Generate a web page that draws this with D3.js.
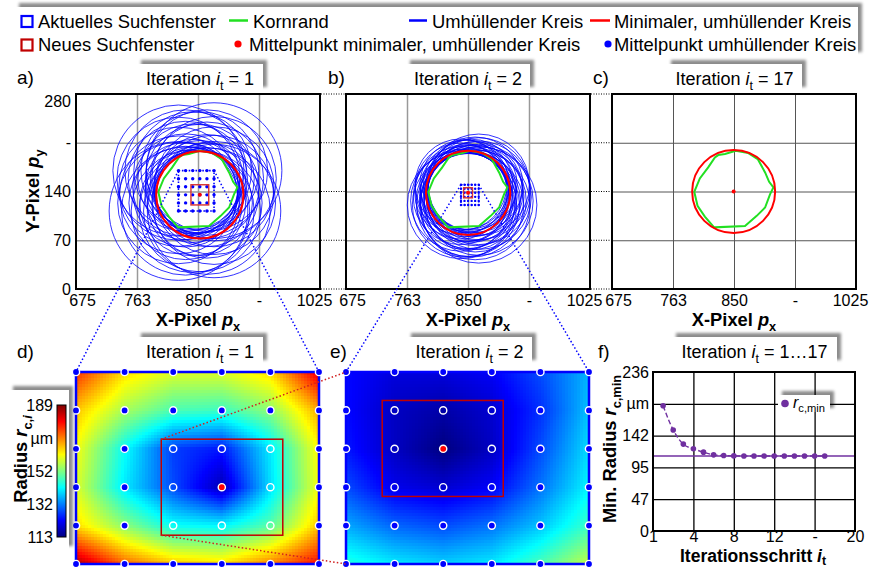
<!DOCTYPE html>
<html>
<head>
<meta charset="utf-8">
<script src="https://cdn.jsdelivr.net/npm/d3@7/dist/d3.min.js"></script>
<style>
  body { margin: 0; background: #fff; }
  svg text { font-family: "Liberation Sans", Arial, sans-serif; fill: #000; }
</style>
</head>
<body>
<div id="chart"></div>
<script>
// ---- data ----
var pxTicks = [675, 762.5, 850, 937.5, 1025];
var pxLabels = ["675", "763", "850", "-", "1025"];
var pyTicks = [0, 70, 140, 210, 280];
var pyLabels = ["0", "70", "140", "-", "280"];

// grain boundary (Kornrand), image pixels
var kornX = [827.4, 837, 852.5, 870.6, 884, 894.6, 900.4, 906.5, 901.8, 894.6, 882.6, 865.8, 821.5, 808.2, 797.7, 793, 801, 813, 822.6];
var kornY = [192.3, 193.8, 198.5, 195.2, 186.6, 167.4, 153.9, 145.8, 136.2, 117, 105, 90.6, 88.5, 104, 119.4, 139.5, 158.7, 174.6, 189];

// search windows (image pixels) for iteration 1, 2, 3
var winAx = [822, 873],     winAy = [112, 170];
var winBx = [839.9, 865.4], winBy = [120.7, 149.7];
var winCx = [843.7, 856.4], winCy = [130.9, 145.4];

// radius of the enclosing circle at each 6x6 search point (µm), rows top -> bottom
var radiusD = [
  [176, 163, 158, 158, 163, 182],
  [165, 154, 147, 146, 152, 167],
  [160, 142, 127, 124, 140, 161],
  [158, 140, 128, 117, 139, 160],
  [163, 152, 142, 141, 148, 165],
  [186, 172, 165, 163, 170, 179]
];
var radiusE = [
  [123, 120, 120, 122, 128, 136],
  [123, 118, 116, 119, 126, 137],
  [124, 118, 113, 118, 128, 139],
  [128, 121, 119, 122, 131, 141],
  [135, 130, 128, 131, 137, 146],
  [144, 140, 138, 140, 147, 156]
];
var umPerPx = 1.87;
var finalCenter = [849.5, 140];

var cbTicks = [113, 132, 151, 170, 189];
var cbLabels = ["113", "132", "152", "µm", "189"];

// f) convergence
var iterations = [1, 2, 3, 4, 5, 6, 7, 8, 9, 10, 11, 12, 13, 14, 15, 16, 17];
var rMin = [186, 150, 129, 122, 117, 113, 112, 111.5, 111.3, 111.3, 111.3, 111.3, 111.3, 111.3, 111.3, 111.3, 111.3];
var rMinFinal = 111.3;
var itTicks = [0, 4, 8, 12, 16, 20];
var itLabels = ["1", "4", "8", "12", "-", "20"];
var rTicks = [0, 47.2, 94.4, 141.6, 188.8, 236];
var rLabels = ["0", "47", "95", "142", "µm", "236"];

var FONT = '"Liberation Sans", Arial, sans-serif';
var BLUE = "#0000ff", RED = "#ff0000", DRED = "#c00000", GREEN = "#22e022", PURPLE = "#7030a0";
var TITLE_SIZE = 18.3;

var svg = d3.select("#chart").append("svg").attr("width", 872).attr("height", 569);
var defs = svg.append("defs");
defs.append("filter").attr("id", "shadow")
  .attr("x", "-20%").attr("y", "-40%").attr("width", "140%").attr("height", "180%")
  .append("feDropShadow").attr("dx", 4).attr("dy", -4).attr("stdDeviation", 1.8)
  .attr("flood-color", "#000").attr("flood-opacity", 0.45);

var jet = d3.scaleLinear()
  .domain([113, 122.5, 141.5, 160.5, 179.5, 189])
  .range(["#000080", "#0000ff", "#00ffff", "#ffff00", "#ff0000", "#800000"])
  .clamp(true);

function shadowBox(x, y, w, h) {
  return svg.append("rect").attr("x", x).attr("y", y).attr("width", w).attr("height", h)
    .attr("fill", "#fff").attr("filter", "url(#shadow)");
}

// text with italic / subscript parts
function rich(t, parts, size, drop) {
  var shift = 0;
  drop = drop || 0.28;
  parts.forEach(function(p) {
    var ts = t.append("tspan").text(p[0]);
    var sub = p[1].indexOf("s") >= 0;
    if (p[1].indexOf("i") >= 0) ts.attr("font-style", "italic");
    var target = sub ? size * drop : 0;
    if (target !== shift) { ts.attr("dy", target - shift); shift = target; }
    if (sub) ts.attr("font-size", size * 0.7);
  });
  return t;
}

function gridPos(a, b) {
  return d3.range(6).map(function(k) { return a + k * (b - a) / 5; });
}

function argMin(vals) {
  var best = [0, 0];
  vals.forEach(function(row, r) { row.forEach(function(v, c) {
    if (v < vals[best[0]][best[1]]) best = [r, c];
  }); });
  return best;
}

// ---- legend ----
shadowBox(15, 7, 843, 49);
var lg = svg.append("g").attr("font-size", 18.4);
lg.append("rect").attr("x", 21.5).attr("y", 16).attr("width", 11).attr("height", 11).attr("fill", "none").attr("stroke", BLUE).attr("stroke-width", 2.2);
lg.append("text").attr("x", 38).attr("y", 27.5).text("Aktuelles Suchfenster");
lg.append("line").attr("x1", 229).attr("x2", 248).attr("y1", 20.5).attr("y2", 20.5).attr("stroke", GREEN).attr("stroke-width", 2.5);
lg.append("text").attr("x", 253).attr("y", 27.5).text("Kornrand");
lg.append("line").attr("x1", 409).attr("x2", 427).attr("y1", 20.5).attr("y2", 20.5).attr("stroke", BLUE).attr("stroke-width", 2.5);
lg.append("text").attr("x", 432).attr("y", 27.5).text("Umhüllender Kreis");
lg.append("line").attr("x1", 590).attr("x2", 610).attr("y1", 20.5).attr("y2", 20.5).attr("stroke", RED).attr("stroke-width", 2.5);
lg.append("text").attr("x", 614).attr("y", 27.5).text("Minimaler, umhüllender Kreis");
lg.append("rect").attr("x", 21.5).attr("y", 39.5).attr("width", 11).attr("height", 11).attr("fill", "none").attr("stroke", DRED).attr("stroke-width", 2.2);
lg.append("text").attr("x", 38).attr("y", 51).text("Neues Suchfenster");
lg.append("circle").attr("cx", 238).attr("cy", 44).attr("r", 3.6).attr("fill", RED);
lg.append("text").attr("x", 249).attr("y", 51).text("Mittelpunkt minimaler, umhüllender Kreis");
lg.append("circle").attr("cx", 608).attr("cy", 44).attr("r", 3.6).attr("fill", BLUE);
lg.append("text").attr("x", 614).attr("y", 51).text("Mittelpunkt umhüllender Kreis");

// ---- top panels a), b), c) ----
var topX0 = [76, 346, 612], topW = 244, topTop = 94, topBot = 289;
var yTop = d3.scaleLinear().domain([0, 280]).range([topBot, topTop]);
var topScales = topX0.map(function(x0) {
  return d3.scaleLinear().domain([675, 1025]).range([x0, x0 + topW]);
});

function drawTop(i, opt) {
  var xs = topScales[i];
  var k = xs(1) - xs(0);
  var g = svg.append("g");
  defs.append("clipPath").attr("id", "clipTop" + i).append("rect")
    .attr("x", topX0[i]).attr("y", topTop).attr("width", topW).attr("height", topBot - topTop);

  var gx = g.append("g").attr("transform", "translate(0," + topBot + ")")
    .call(d3.axisBottom(xs).tickValues(pxTicks.slice(1, 4)).tickSize(-(topBot - topTop)).tickFormat(""));
  var gy = g.append("g").attr("transform", "translate(" + topX0[i] + ",0)")
    .call(d3.axisLeft(yTop).tickValues(pyTicks.slice(1, 4)).tickSize(-topW).tickFormat(""));
  [gx, gy].forEach(function(a) {
    a.select(".domain").remove();
    a.selectAll("line").attr("stroke", opt.gridColor).attr("stroke-width", opt.gridWidth);
  });

  var p = g.append("g").attr("clip-path", "url(#clipTop" + i + ")");

  if (opt.vals) {
    var cx = gridPos(opt.winX[0], opt.winX[1]);
    var cy = gridPos(opt.winY[1], opt.winY[0]);
    var circ = [];
    opt.vals.forEach(function(row, r) { row.forEach(function(v, c) {
      circ.push({ x: cx[c], y: cy[r], v: v });
    }); });
    p.selectAll(".env").data(circ).enter().append("circle")
      .attr("cx", function(d) { return xs(d.x); })
      .attr("cy", function(d) { return yTop(d.y); })
      .attr("r", function(d) { return d.v / umPerPx * k; })
      .attr("fill", "none").attr("stroke", BLUE).attr("stroke-width", 0.8);
  }

  p.append("path")
    .attr("d", d3.line().x(function(d) { return xs(d); }).y(function(d, j) { return yTop(kornY[j]); })(kornX) + "Z")
    .attr("fill", "none").attr("stroke", GREEN).attr("stroke-width", 2);

  var center, rad;
  if (opt.vals) {
    var b = argMin(opt.vals);
    center = [gridPos(opt.winX[0], opt.winX[1])[b[1]], gridPos(opt.winY[1], opt.winY[0])[b[0]]];
    rad = opt.vals[b[0]][b[1]] / umPerPx;
  } else {
    center = finalCenter;
    rad = rMinFinal / umPerPx;
  }
  p.append("circle").attr("cx", xs(center[0])).attr("cy", yTop(center[1])).attr("r", rad * k)
    .attr("fill", "none").attr("stroke", RED).attr("stroke-width", 2);

  if (opt.vals) {
    // current search window
    p.append("rect")
      .attr("x", xs(opt.winX[0])).attr("y", yTop(opt.winY[1]))
      .attr("width", xs(opt.winX[1]) - xs(opt.winX[0])).attr("height", yTop(opt.winY[0]) - yTop(opt.winY[1]))
      .attr("fill", "none").attr("stroke", BLUE).attr("stroke-width", 1.6).attr("stroke-dasharray", "1.6,1.8");
    var dots = [];
    gridPos(opt.winX[0], opt.winX[1]).forEach(function(x) {
      gridPos(opt.winY[0], opt.winY[1]).forEach(function(y) { dots.push([x, y]); });
    });
    p.selectAll(".dot").data(dots).enter().append("circle")
      .attr("cx", function(d) { return xs(d[0]); }).attr("cy", function(d) { return yTop(d[1]); })
      .attr("r", opt.dotR).attr("fill", BLUE);
    // next search window
    p.append("rect")
      .attr("x", xs(opt.newX[0])).attr("y", yTop(opt.newY[1]))
      .attr("width", xs(opt.newX[1]) - xs(opt.newX[0])).attr("height", yTop(opt.newY[0]) - yTop(opt.newY[1]))
      .attr("fill", "none").attr("stroke", "#d83030").attr("stroke-width", 1.4);
  }
  p.append("circle").attr("cx", xs(center[0])).attr("cy", yTop(center[1])).attr("r", 2).attr("fill", RED);

  g.append("rect").attr("x", topX0[i]).attr("y", topTop).attr("width", topW).attr("height", topBot - topTop)
    .attr("fill", "none").attr("stroke", "#000").attr("stroke-width", 2);

  var lab = g.append("g").attr("transform", "translate(0," + topBot + ")")
    .call(d3.axisBottom(xs).tickValues(pxTicks).tickFormat(function(d, j) { return pxLabels[j]; }).tickSize(0).tickPadding(6));
  lab.select(".domain").remove();
  lab.attr("font-size", 16).attr("font-family", FONT);
  lab.selectAll("text").attr("fill", "#000")
    .attr("dx", function(d, j) { return j === 0 ? 6 : (j === pxTicks.length - 1 ? -6 : 0); });

  rich(g.append("text").attr("x", topX0[i] + topW / 2).attr("y", 326).attr("text-anchor", "middle")
    .attr("font-size", TITLE_SIZE).attr("font-weight", "bold"), [["X-Pixel ", "n"], ["p", "i"], ["x", "s"]], TITLE_SIZE);
  return xs;
}

drawTop(0, { vals: radiusD, winX: winAx, winY: winAy, newX: winBx, newY: winBy, gridColor: "#999", gridWidth: 1.5, dotR: 1.7 });
drawTop(1, { vals: radiusE, winX: winBx, winY: winBy, newX: winCx, newY: winCy, gridColor: "#999", gridWidth: 1.5, dotR: 1.2 });
drawTop(2, { gridColor: "#555", gridWidth: 1 });

// y labels for a)
var yl = svg.append("g").attr("transform", "translate(" + topX0[0] + ",0)")
  .call(d3.axisLeft(yTop).tickValues(pyTicks).tickFormat(function(d, j) { return pyLabels[j]; }).tickSize(0).tickPadding(5));
yl.select(".domain").remove();
yl.attr("font-size", 16).attr("font-family", FONT);
yl.selectAll("text").attr("fill", "#000").attr("dy", function(d) { return d === 280 ? "0.75em" : "0.32em"; });
rich(svg.append("text").attr("transform", "translate(39,191) rotate(-90)").attr("text-anchor", "middle")
  .attr("font-size", TITLE_SIZE).attr("font-weight", "bold"), [["Y-Pixel ", "n"], ["p", "i"], ["y", "s"]], TITLE_SIZE);

// dotted links between the top panels
[0, 1].forEach(function(i) {
  svg.selectAll(null).data(pyTicks).enter().append("line")
    .attr("x1", topX0[i] + topW + 1).attr("x2", topX0[i + 1] - 1)
    .attr("y1", function(d) { return yTop(d); }).attr("y2", function(d) { return yTop(d); })
    .attr("stroke", "#000").attr("stroke-width", 1).attr("stroke-dasharray", "1,1.5");
});

// ---- bottom heatmaps d), e) ----
var heatX0 = [76, 346], heatW = 243, heatTop = 372, heatH = 192;

function bilinear(vals, u, v) {
  var c = Math.min(Math.floor(u), 4), r = Math.min(Math.floor(v), 4);
  var fu = u - c, fv = v - r;
  var top = vals[r][c] * (1 - fu) + vals[r][c + 1] * fu;
  var bot = vals[r + 1][c] * (1 - fu) + vals[r + 1][c + 1] * fu;
  return top * (1 - fv) + bot * fv;
}

function drawHeat(j, vals, winX, winY, newX, newY) {
  var x0 = heatX0[j];
  var hx = d3.scaleLinear().domain(winX).range([x0, x0 + heatW]);
  var hy = d3.scaleLinear().domain([winY[1], winY[0]]).range([heatTop, heatTop + heatH]);
  var gu = d3.scaleLinear().domain([0, 5]).range([x0, x0 + heatW]);
  var gv = d3.scaleLinear().domain([0, 5]).range([heatTop, heatTop + heatH]);
  var nx = 81, ny = 64, cells = [];
  for (var b = 0; b < ny; b++) for (var a = 0; a < nx; a++) {
    cells.push({ u0: a * 5 / nx, u1: (a + 1) * 5 / nx, v0: b * 5 / ny, v1: (b + 1) * 5 / ny,
      v: bilinear(vals, (a + 0.5) * 5 / nx, (b + 0.5) * 5 / ny) });
  }
  var g = svg.append("g");
  g.selectAll("rect.cell").data(cells).enter().append("rect")
    .attr("x", function(d) { return gu(d.u0); }).attr("y", function(d) { return gv(d.v0); })
    .attr("width", function(d) { return gu(d.u1) - gu(d.u0) + 0.6; })
    .attr("height", function(d) { return gv(d.v1) - gv(d.v0) + 0.6; })
    .attr("fill", function(d) { return jet(d.v); }).attr("shape-rendering", "crispEdges");

  g.append("rect").attr("x", x0).attr("y", heatTop).attr("width", heatW).attr("height", heatH)
    .attr("fill", "none").attr("stroke", BLUE).attr("stroke-width", 2.5);
  g.append("rect").attr("x", hx(newX[0])).attr("y", hy(newY[1]))
    .attr("width", hx(newX[1]) - hx(newX[0])).attr("height", hy(newY[0]) - hy(newY[1]))
    .attr("fill", "none").attr("stroke", DRED).attr("stroke-width", 1.5);

  var best = argMin(vals);
  var gxs = gridPos(winX[0], winX[1]), gys = gridPos(winY[1], winY[0]);
  var pts = [];
  vals.forEach(function(row, r) { row.forEach(function(v, c) {
    var inside = gxs[c] >= newX[0] && gxs[c] <= newX[1] && gys[r] >= newY[0] && gys[r] <= newY[1];
    pts.push({ x: gxs[c], y: gys[r], kind: (r === best[0] && c === best[1]) ? "best" : (inside ? "in" : "out") });
  }); });
  g.selectAll("circle.pt").data(pts).enter().append("circle")
    .attr("cx", function(d) { return hx(d.x); }).attr("cy", function(d) { return hy(d.y); })
    .attr("r", 3.6)
    .attr("fill", function(d) { return d.kind === "best" ? RED : (d.kind === "in" ? "none" : BLUE); })
    .attr("stroke", "#fff").attr("stroke-width", 1.4);
  return { hx: hx, hy: hy };
}

var hD = drawHeat(0, radiusD, winAx, winAy, winBx, winBy);
var hE = drawHeat(1, radiusE, winBx, winBy, winCx, winCy);

// ---- f) convergence ----
var fx = d3.scaleLinear().domain([0, 20]).range([653, 855]);
var fy = d3.scaleLinear().domain([0, 236]).range([531, 372]);
var fg = svg.append("g");
var fgx = fg.append("g").attr("transform", "translate(0,531)")
  .call(d3.axisBottom(fx).tickValues(itTicks.slice(1, 5)).tickSize(-159).tickFormat(""));
var fgy = fg.append("g").attr("transform", "translate(653,0)")
  .call(d3.axisLeft(fy).tickValues(rTicks.slice(1, 5)).tickSize(-202).tickFormat(""));
[fgx, fgy].forEach(function(a) {
  a.select(".domain").remove();
  a.selectAll("line").attr("stroke", "#000").attr("stroke-width", 1.3);
});
fg.append("line").attr("x1", fx(0)).attr("x2", fx(20)).attr("y1", fy(rMinFinal)).attr("y2", fy(rMinFinal))
  .attr("stroke", PURPLE).attr("stroke-width", 1.6);
fg.append("path")
  .attr("d", d3.line().curve(d3.curveMonotoneX)
    .x(function(d) { return fx(d); }).y(function(d, j) { return fy(rMin[j]); })(iterations))
  .attr("fill", "none").attr("stroke", PURPLE).attr("stroke-width", 1.4).attr("stroke-dasharray", "5,2.5");
fg.selectAll("circle").data(iterations).enter().append("circle")
  .attr("cx", function(d) { return fx(d); }).attr("cy", function(d, j) { return fy(rMin[j]); })
  .attr("r", 2.8).attr("fill", PURPLE);
fg.append("rect").attr("x", 653).attr("y", 372).attr("width", 202).attr("height", 159)
  .attr("fill", "none").attr("stroke", "#000").attr("stroke-width", 2);

var fxl = fg.append("g").attr("transform", "translate(0,531)")
  .call(d3.axisBottom(fx).tickValues(itTicks).tickFormat(function(d, j) { return itLabels[j]; }).tickSize(0).tickPadding(0));
var fyl = fg.append("g").attr("transform", "translate(653,0)")
  .call(d3.axisLeft(fy).tickValues(rTicks).tickFormat(function(d, j) { return rLabels[j]; }).tickSize(0).tickPadding(4));
[fxl, fyl].forEach(function(a) {
  a.select(".domain").remove();
  a.attr("font-size", 16).attr("font-family", FONT);
  a.selectAll("text").attr("fill", "#000");
});
rich(svg.append("text").attr("x", 753).attr("y", 562).attr("text-anchor", "middle")
  .attr("font-size", 17.5).attr("font-weight", "bold"), [["Iterationsschritt ", "n"], ["i", "i"], ["t", "s"]], 17.5, 0.18);
rich(svg.append("text").attr("transform", "translate(616,449) rotate(-90)").attr("text-anchor", "middle")
  .attr("font-size", TITLE_SIZE).attr("font-weight", "bold"), [["Min. Radius ", "n"], ["r", "i"], ["c,min", "s"]], TITLE_SIZE);

// ---- projection lines ----
var lines = svg.append("g").attr("fill", "none").attr("stroke-width", 1.5).attr("stroke-dasharray", "1.5,2.2");
var sA = topScales[0], sB = topScales[1];
[[sA(winAx[0]), yTop(winAy[1]), hD.hx(winAx[0]), hD.hy(winAy[1])],
 [sA(winAx[1]), yTop(winAy[1]), hD.hx(winAx[1]), hD.hy(winAy[1])],
 [sB(winBx[0]), yTop(winBy[1]), hE.hx(winBx[0]), hE.hy(winBy[1])],
 [sB(winBx[1]), yTop(winBy[1]), hE.hx(winBx[1]), hE.hy(winBy[1])]].forEach(function(l) {
  lines.append("line").attr("x1", l[0]).attr("y1", l[1]).attr("x2", l[2]).attr("y2", l[3]).attr("stroke", BLUE);
});
[[hD.hx(winBx[0]), hD.hy(winBy[1]), hE.hx(winBx[0]), hE.hy(winBy[1])],
 [hD.hx(winBx[0]), hD.hy(winBy[0]), hE.hx(winBx[0]), hE.hy(winBy[0])]].forEach(function(l) {
  lines.append("line").attr("x1", l[0]).attr("y1", l[1]).attr("x2", l[2]).attr("y2", l[3]).attr("stroke", "#d02020");
});

// ---- colour bar ----
shadowBox(9, 390, 60, 160);
var grad = defs.append("linearGradient").attr("id", "jetGrad").attr("x1", 0).attr("y1", 1).attr("x2", 0).attr("y2", 0);
jet.domain().forEach(function(v) {
  grad.append("stop").attr("offset", (v - 113) / (189 - 113)).attr("stop-color", jet(v));
});
var cbScale = d3.scaleLinear().domain([113, 189]).range([537, 405]);
svg.append("rect").attr("x", 57).attr("y", 405).attr("width", 9).attr("height", 132)
  .attr("fill", "url(#jetGrad)").attr("stroke", "#000").attr("stroke-width", 1);
var cba = svg.append("g").attr("transform", "translate(57,0)")
  .call(d3.axisLeft(cbScale).tickValues(cbTicks).tickFormat(function(d, j) { return cbLabels[j]; }).tickSize(0).tickPadding(4));
cba.select(".domain").remove();
cba.attr("font-size", 16).attr("font-family", FONT);
cba.selectAll("text").attr("fill", "#000");
rich(svg.append("text").attr("transform", "translate(27,459) rotate(-90)").attr("text-anchor", "middle")
  .attr("font-size", TITLE_SIZE).attr("font-weight", "bold"), [["Radius ", "n"], ["r", "i"], ["c,", "s"], ["i", "si"]], TITLE_SIZE);

// ---- f legend ----
shadowBox(778, 395, 52, 17);
svg.append("circle").attr("cx", 785).attr("cy", 403.5).attr("r", 3.8).attr("fill", PURPLE);
rich(svg.append("text").attr("x", 793).attr("y", 408).attr("font-size", 16), [["r", "i"], ["c,min", "s"]], 16);

// ---- titles and panel letters ----
var titles = [
  { x: 137, y: 64, w: 126, cx: 200, by: 84.5, it: "1" },
  { x: 406, y: 64, w: 124, cx: 468, by: 84.5, it: "2" },
  { x: 667, y: 64, w: 135, cx: 734.5, by: 84.5, it: "17" },
  { x: 137, y: 337, w: 126, cx: 200, by: 357.5, it: "1" },
  { x: 407, y: 337, w: 125, cx: 469.5, by: 357.5, it: "2" },
  { x: 672, y: 337, w: 165, cx: 754.5, by: 357.5, it: "1…17" }
];
titles.forEach(function(t) {
  shadowBox(t.x, t.y, t.w, 27);
  rich(svg.append("text").attr("x", t.cx).attr("y", t.by).attr("text-anchor", "middle").attr("font-size", 18),
    [["Iteration ", "n"], ["i", "i"], ["t", "s"], [" = " + t.it, "n"]], 18);
});
var letters = [["a)", 17, 84], ["b)", 328, 84], ["c)", 593, 84], ["d)", 17, 358], ["e)", 330, 358], ["f)", 598, 358]];
svg.selectAll(null).data(letters).enter().append("text")
  .attr("x", function(d) { return d[1]; }).attr("y", function(d) { return d[2]; })
  .attr("font-size", 19).text(function(d) { return d[0]; });
</script>
</body>
</html>
